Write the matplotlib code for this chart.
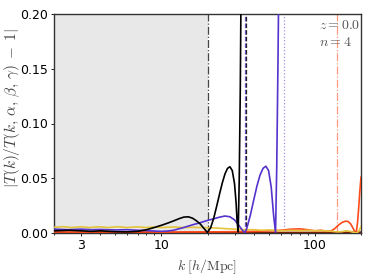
import numpy as np
import matplotlib
matplotlib.use("Agg")
import matplotlib.pyplot as plt
import matplotlib.ticker as ticker

plt.rcParams['mathtext.fontset'] = 'cm'

# curves: k [h/Mpc] and |T/T_fit - 1|
k_black = [2, 2.5, 3, 3.5, 4, 5, 6, 7, 8, 9, 10, 11, 12, 13, 14, 15, 16, 17, 18, 19, 20,
           21, 22, 23, 24, 25, 26, 27, 28, 29, 30, 30.7, 31.2, 31.7, 32.2, 32.7, 33.2]
y_black = [0.002, 0.0025, 0.002, 0.0015, 0.002, 0.0012, 0.001, 0.0015, 0.003, 0.005, 0.007,
           0.009, 0.011, 0.013, 0.0145, 0.0148, 0.0135, 0.011, 0.008, 0.004, 0.0005,
           0.005, 0.014, 0.025, 0.036, 0.046, 0.054, 0.059, 0.0605, 0.057, 0.045, 0.028,
           0.010, 0.001, 0.05, 0.13, 0.25]

k_purple = [2, 2.5, 3, 3.5, 4, 5, 6, 7, 8, 9, 10, 11, 12, 14, 16, 18, 20, 22, 24, 26, 28,
            30, 32, 34, 35, 36, 38, 40, 42, 44, 46, 48, 50, 52, 54, 55.5, 56.5, 57.5, 58.5]
y_purple = [0.0035, 0.003, 0.0035, 0.003, 0.0032, 0.0028, 0.003, 0.0025, 0.0022, 0.0018,
            0.0015, 0.0018, 0.0025, 0.005, 0.0075, 0.0095, 0.0115, 0.013, 0.0145, 0.0155,
            0.0148, 0.012, 0.007, 0.002, 0.0002, 0.004, 0.016, 0.03, 0.043, 0.053, 0.059,
            0.061, 0.057, 0.042, 0.015, 0.0005, 0.06, 0.15, 0.25]

k_yellow = [2, 2.3, 2.6, 3, 3.4, 3.9, 4.5, 5.2, 6, 7, 8, 9, 10, 12, 14, 16, 18, 20, 23, 26,
            30, 35, 40, 45, 50, 60, 70, 80, 90, 100, 110, 120, 130, 140, 150, 160, 170,
            180, 188, 194, 200]
y_yellow = [0.0052, 0.0058, 0.005, 0.0057, 0.005, 0.0057, 0.005, 0.0057, 0.005, 0.0056,
            0.005, 0.0055, 0.005, 0.0055, 0.005, 0.0052, 0.005, 0.0048, 0.0045, 0.004,
            0.0035, 0.003, 0.003, 0.0025, 0.0028, 0.002, 0.0025, 0.002, 0.0025, 0.002,
            0.0022, 0.0018, 0.0015, 0.001, 0.0012, 0.002, 0.0015, 0.0005, 0.0, 0.002, 0.006]

k_orange = [2, 3, 4, 6, 8, 10, 15, 20, 30, 40, 50, 60, 70, 80, 90, 100, 110, 120, 128,
            135, 142, 150, 158, 165, 172, 178, 183, 187, 190, 193, 196, 200]
y_orange = [0.001, 0.0008, 0.001, 0.0008, 0.001, 0.0008, 0.001, 0.001, 0.0012, 0.0015,
            0.002, 0.0025, 0.0035, 0.0038, 0.003, 0.002, 0.0025, 0.0015, 0.002,
            0.004, 0.007, 0.0095, 0.0108, 0.0105, 0.008, 0.004, 0.0008, 0.002, 0.01,
            0.022, 0.036, 0.051]

k_dred = [2, 5, 10, 20, 50, 100, 150, 200]
y_dred = [0.0003, 0.0003, 0.0004, 0.0004, 0.0005, 0.0005, 0.0006, 0.0008]

# vertical markers
vlines_k = [20, 35, 35.7, 63, 140]
vlines_col = ['#444444', '#7a5ad8', '#222222', '#a98ee8', '#ff9a80']
vlines_ls = ['-.', '--', '--', ':', '-.']

shade_lo, shade_hi = 2, 20

fig = plt.figure(figsize=(3.74, 2.8), dpi=100)
ax = fig.add_axes([54/374, 1-233/280, (361-54)/374, (233-14)/280])

ax.axvspan(shade_lo, shade_hi, color='#e8e8e8', lw=0, zorder=0)

for kv, c, ls in zip(vlines_k, vlines_col, vlines_ls):
    ax.axvline(kv, color=c, ls=ls, lw=0.9, zorder=1)

ax.plot(k_dred, y_dred, color='#8b1a00', lw=1.2, zorder=2)
ax.plot(k_orange, y_orange, color='#ff4a1a', lw=1.2, zorder=3)
ax.plot(k_yellow, y_yellow, color='#e3c43c', lw=1.2, zorder=3)
ax.plot(k_purple, y_purple, color='#5533cc', lw=1.2, zorder=4)
ax.plot(k_black, y_black, color='black', lw=1.2, zorder=5)

ax.set_xscale('log')
ax.set_xlim(2, 200)
ax.set_ylim(0, 0.2)
ax.xaxis.set_major_locator(ticker.FixedLocator([3, 10, 100]))
ax.xaxis.set_major_formatter(ticker.FixedFormatter(['3', '10', '100']))
ax.xaxis.set_minor_formatter(ticker.NullFormatter())
ax.set_yticks([0, 0.05, 0.10, 0.15, 0.20])
ax.set_yticklabels(['0.00', '0.05', '0.10', '0.15', '0.20'])
ax.tick_params(which='both', direction='out', length=2.5, width=0.6, labelsize=9, pad=2)
ax.tick_params(which='minor', length=1.5)

for s in ax.spines.values():
    s.set_color('#333333')
    s.set_linewidth(1.0)

ax.set_xlabel(r'$k\;[h/\mathrm{Mpc}]$', fontsize=10, color='#444444')
ax.set_ylabel(r'$|T(k)/T(k,\,\alpha,\,\beta,\,\gamma)\;-\;1|$', fontsize=11, color='#444444')
ax.yaxis.set_label_coords(-0.105, 0.57)

ax.text(0.863, 0.95, r'$z = 0.0$', transform=ax.transAxes, ha='left', va='center',
        fontsize=10, color='#555555')
ax.text(0.863, 0.873, r'$n = 4$', transform=ax.transAxes, ha='left', va='center',
        fontsize=10, color='#555555')

fig.savefig('out.png', dpi=100)
